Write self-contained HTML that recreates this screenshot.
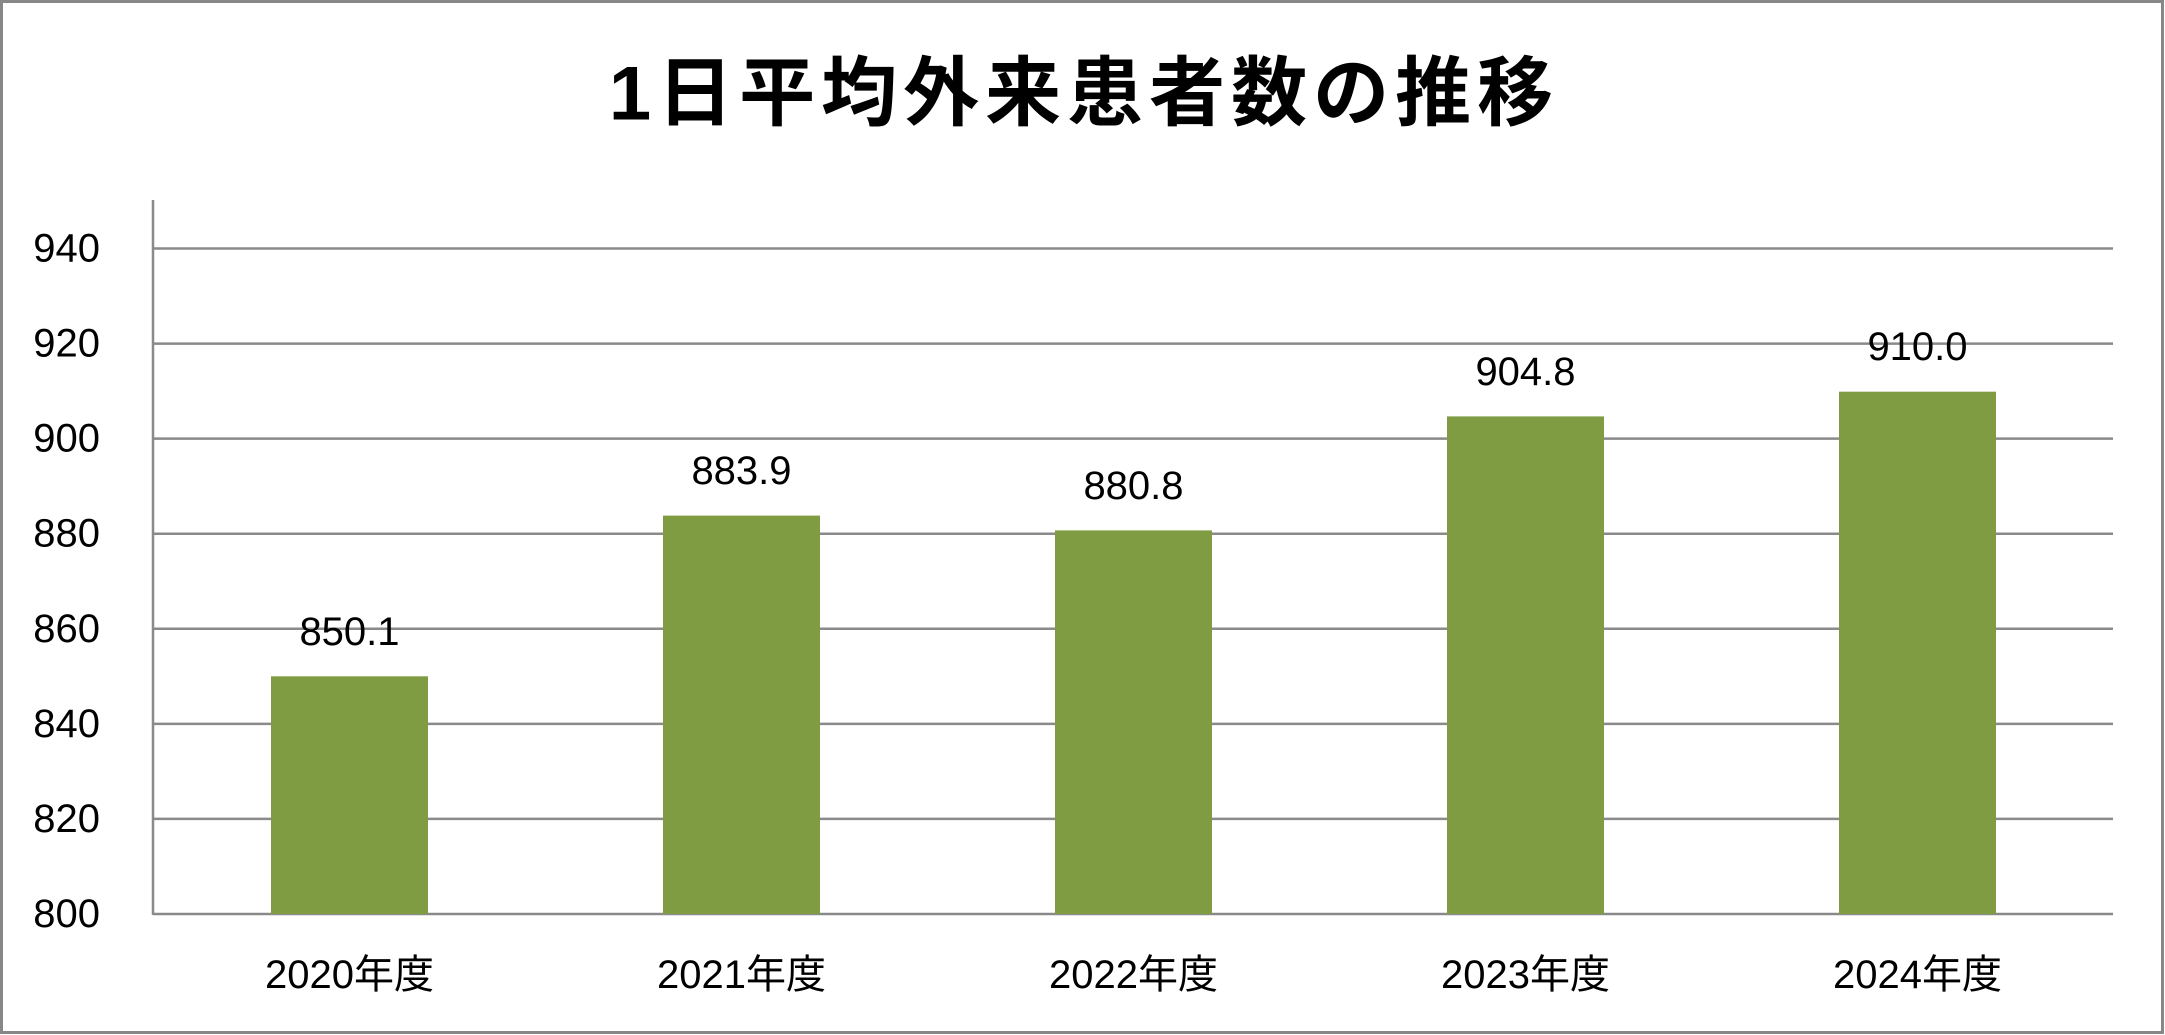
<!DOCTYPE html>
<html><head><meta charset="utf-8"><style>
html,body{margin:0;padding:0;background:#fff;}
svg{display:block;}
text{font-family:"Liberation Sans","Noto Sans CJK JP",sans-serif;fill:#000;}
</style></head><body>
<svg width="2165" height="1035" viewBox="0 0 2165 1035" xmlns="http://www.w3.org/2000/svg">
<rect x="1.5" y="1.5" width="2161" height="1031" fill="#fff" stroke="#878787" stroke-width="3"/>
<text x="1084" y="94" font-size="76" font-weight="bold" text-anchor="middle" dominant-baseline="central" letter-spacing="6">1日平均外来患者数の推移</text>
<g stroke="#8a8a8a" stroke-width="2.5">
<line x1="153" y1="248.5" x2="2113" y2="248.5"/>
<line x1="153" y1="343.6" x2="2113" y2="343.6"/>
<line x1="153" y1="438.6" x2="2113" y2="438.6"/>
<line x1="153" y1="533.7" x2="2113" y2="533.7"/>
<line x1="153" y1="628.8" x2="2113" y2="628.8"/>
<line x1="153" y1="723.9" x2="2113" y2="723.9"/>
<line x1="153" y1="818.9" x2="2113" y2="818.9"/>
<line x1="153" y1="914" x2="2113" y2="914"/>
<line x1="153" y1="200" x2="153" y2="915"/>
</g>
<g font-size="40" text-anchor="end" dominant-baseline="central">
<text x="100" y="248.5">940</text>
<text x="100" y="343.6">920</text>
<text x="100" y="438.6">900</text>
<text x="100" y="533.7">880</text>
<text x="100" y="628.8">860</text>
<text x="100" y="723.9">840</text>
<text x="100" y="818.9">820</text>
<text x="100" y="914">800</text>
</g>
<g fill="#7f9c43">
<rect x="271" y="676.3" width="157" height="237.7"/>
<rect x="663" y="515.6" width="157" height="398.4"/>
<rect x="1055" y="530.4" width="157" height="383.6"/>
<rect x="1447" y="416.4" width="157" height="497.6"/>
<rect x="1839" y="391.7" width="157" height="522.3"/>
</g>
<g font-size="40" text-anchor="middle" dominant-baseline="central">
<text x="349.5" y="632">850.1</text>
<text x="741.5" y="471">883.9</text>
<text x="1133.5" y="486">880.8</text>
<text x="1525.5" y="372">904.8</text>
<text x="1917.5" y="347">910.0</text>
</g>
<g font-size="40" text-anchor="middle" dominant-baseline="central">
<text x="349.5" y="975">2020年度</text>
<text x="741.5" y="975">2021年度</text>
<text x="1133.5" y="975">2022年度</text>
<text x="1525.5" y="975">2023年度</text>
<text x="1917.5" y="975">2024年度</text>
</g>
</svg>
</body></html>
